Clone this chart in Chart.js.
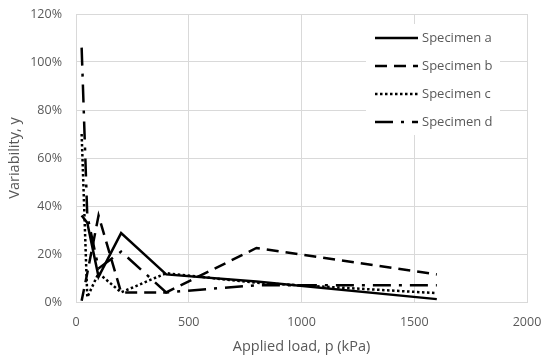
<!DOCTYPE html>
<html lang="en">
<head>
<meta charset="UTF-8">
<title>Variability vs applied load</title>
<script src="https://cdn.jsdelivr.net/npm/chart.js"></script>
<style>
    html, body { margin: 0; padding: 0; background: #fff; }
    .wrap { width: 550px; height: 358px; position: relative; }
</style>
</head>
<body>
<div class="wrap"><canvas id="chart"></canvas></div>
<script>
// applied load steps (kPa)
const loads = [25, 50, 100, 200, 400, 800, 1600];
// variability in %
const specimenA = [36, 33, 10.5, 28.7, 11.5, 8.5, 1.2];
const specimenB = [0.5, 12, 36, 4, 4, 22.5, 11.5];
const specimenC = [70, 2, 12, 4, 12, 8, 3.7];
const specimenD = [106, 36, 14, 21, 4, 7, 7];
const seriesNames = ['Specimen a', 'Specimen b', 'Specimen c', 'Specimen d'];

const textColor = '#595959';
const gridColor = '#d9d9d9';
const fontFamily = '"Open Sans", "Noto Sans", sans-serif';

function points(values) {
    return loads.map((x, i) => ({ x: x, y: values[i] }));
}

function line(label, values, dash) {
    return {
        label: label,
        data: points(values),
        showLine: true,
        borderColor: '#000',
        backgroundColor: '#000',
        borderWidth: 2.5,
        borderDash: dash,
        borderCapStyle: 'butt',
        pointRadius: 0,
        tension: 0
    };
}

// legend drawn inside the plot, like the Excel original
const insideLegend = {
    id: 'insideLegend',
    afterDraw(chart) {
        const ctx = chart.ctx;
        const area = chart.chartArea;
        const x0 = area.right - 161;
        const y0 = area.top + 10;
        ctx.save();
        ctx.fillStyle = '#fff';
        ctx.fillRect(x0, y0, 134, 111);
        chart.data.datasets.forEach((ds, i) => {
            const y = y0 + 14 + i * 28;
            ctx.beginPath();
            ctx.strokeStyle = ds.borderColor;
            ctx.lineWidth = ds.borderWidth;
            ctx.lineCap = 'butt';
            ctx.setLineDash(ds.borderDash || []);
            ctx.moveTo(x0 + 9, y);
            ctx.lineTo(x0 + 52, y);
            ctx.stroke();
            ctx.setLineDash([]);
            ctx.fillStyle = textColor;
            ctx.font = '13px ' + fontFamily;
            ctx.textBaseline = 'middle';
            ctx.fillText(ds.label, x0 + 56, y);
        });
        ctx.restore();
    }
};

new Chart(document.getElementById('chart'), {
    type: 'scatter',
    data: {
        datasets: [
            line(seriesNames[0], specimenA, []),
            line(seriesNames[1], specimenB, [12, 7]),
            line(seriesNames[2], specimenC, [2.5, 2.5]),
            line(seriesNames[3], specimenD, [18, 8, 3, 8])
        ]
    },
    options: {
        responsive: true,
        maintainAspectRatio: false,
        animation: false,
        layout: { padding: { left: 0, top: 14, right: 23, bottom: 0 } },
        plugins: {
            legend: { display: false },
            tooltip: { enabled: false }
        },
        scales: {
            x: {
                type: 'linear',
                min: 0,
                max: 2000,
                afterFit: function(scale) {
                    scale.height = 56;
                    scale.paddingLeft = 0;
                    scale.paddingRight = 0;
                },
                ticks: {
                    stepSize: 500,
                    color: textColor,
                    padding: 13,
                    font: { family: fontFamily, size: 12.5 },
                    callback: v => String(v)
                },
                grid: { color: gridColor, drawTicks: false },
                border: { color: gridColor },
                title: {
                    display: true,
                    text: 'Applied load, p (kPa)',
                    color: textColor,
                    font: { family: fontFamily, size: 14.5 },
                    padding: { top: 4, bottom: 2 }
                }
            },
            y: {
                min: 0,
                max: 120,
                afterFit: function(scale) {
                    scale.width = 76;
                    scale.paddingTop = 0;
                    scale.paddingBottom = 0;
                },
                ticks: {
                    stepSize: 20,
                    color: textColor,
                    padding: 14,
                    font: { family: fontFamily, size: 12.5 },
                    callback: v => v + '%'
                },
                grid: { color: gridColor, drawTicks: false },
                border: { color: gridColor },
                title: {
                    display: true,
                    text: 'Variability, y',
                    color: textColor,
                    font: { family: fontFamily, size: 14.5 },
                    padding: { top: 6, bottom: 0 }
                }
            }
        }
    },
    plugins: [insideLegend]
});
</script>
</body>
</html>
